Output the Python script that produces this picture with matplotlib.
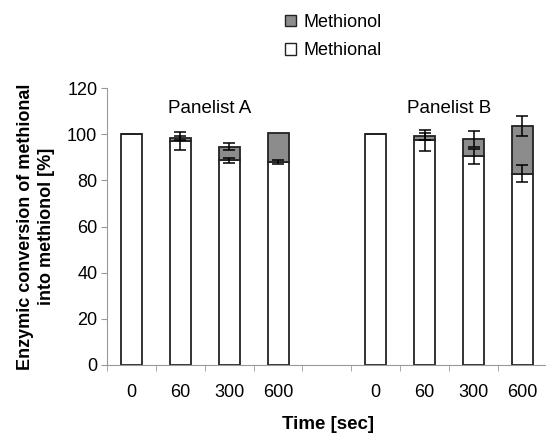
import numpy as np
import matplotlib

matplotlib.use("Agg")
import matplotlib.pyplot as plt
from matplotlib.patches import Patch

plt.rcParams["font.family"] = ["Liberation Sans", "DejaVu Sans"]

# data (blank slot separates the two panelists)
tick_labels = ["0", "60", "300", "600", "", "0", "60", "300", "600"]
methional = [100, 97.0, 88.7, 88.0, 0, 100, 97.4, 90.5, 82.9]
methional_err = [0, 4.0, 1.2, 0.7, 0, 0, 4.5, 3.2, 3.6]
methionol = [0, 1.3, 5.8, 12.6, 0, 0, 1.7, 7.3, 20.7]
methionol_err = [0, 0.8, 1.5, 0, 0, 0, 1.5, 3.5, 4.4]
panel_names = ["Panelist A", "Panelist B"]

x = np.arange(len(tick_labels))
present = np.array([lbl != "" for lbl in tick_labels])
m1 = np.array(methional)
m2 = np.array(methionol)

fig = plt.figure(figsize=(5.46, 4.34), dpi=100)
ax = fig.add_axes([0.196, 0.159, 0.81, 0.638])

w = 0.43
ax.bar(x[present], m1[present], w, color="white", edgecolor="#222222", lw=1.3, zorder=2)
ax.bar(x[present], m2[present], w, bottom=m1[present], color="#8c8c8c",
       edgecolor="#222222", lw=1.3, zorder=2)

e1 = np.array(methional_err)
e2 = np.array(methionol_err)
sel = present & (e1 > 0)
ax.errorbar(x[sel], m1[sel], yerr=e1[sel], fmt="none", ecolor="black",
            elinewidth=1.1, capsize=4, capthick=1.1, zorder=3)
sel = present & (e2 > 0)
ax.errorbar(x[sel], (m1 + m2)[sel], yerr=e2[sel], fmt="none", ecolor="black",
            elinewidth=1.1, capsize=4, capthick=1.1, zorder=3)

ax.set_xlim(-0.5, len(x) - 0.45)
ax.set_ylim(0, 120)
ax.set_yticks(range(0, 121, 20))
ax.set_xticks(x)
ax.set_xticklabels(tick_labels)
ax.set_xticks(np.arange(len(x) + 1) - 0.5, minor=True)
ax.tick_params(axis="x", which="major", length=0, pad=14, labelsize=13)
ax.tick_params(axis="x", which="minor", length=4, color="#999999")
ax.tick_params(axis="y", length=4, color="#999999", labelsize=13, pad=3)
for side in ("top", "right"):
    ax.spines[side].set_visible(False)
for side in ("left", "bottom"):
    ax.spines[side].set_color("#999999")
    ax.spines[side].set_linewidth(0.8)

ax.text(1.6, 111, panel_names[0], ha="center", va="center", fontsize=13.5)
ax.text(6.5, 111, panel_names[1], ha="center", va="center", fontsize=13.5)

ax.set_ylabel("Enzymic conversion of methional\ninto methionol [%]",
              fontsize=13, fontweight="bold", labelpad=9, linespacing=1.3)
ax.set_xlabel("Time [sec]", fontsize=13.5, fontweight="bold")
ax.xaxis.set_label_coords(0.5, -0.185)

handles = [Patch(facecolor="#8c8c8c", edgecolor="#222222", label="Methionol"),
           Patch(facecolor="white", edgecolor="#222222", label="Methional")]
fig.legend(handles=handles, loc="upper left", bbox_to_anchor=(0.493, 1.005),
           frameon=False, fontsize=13, handlelength=0.6, handleheight=0.6,
           handletextpad=0.4, labelspacing=0.62)

fig.savefig("out.png", dpi=100)
